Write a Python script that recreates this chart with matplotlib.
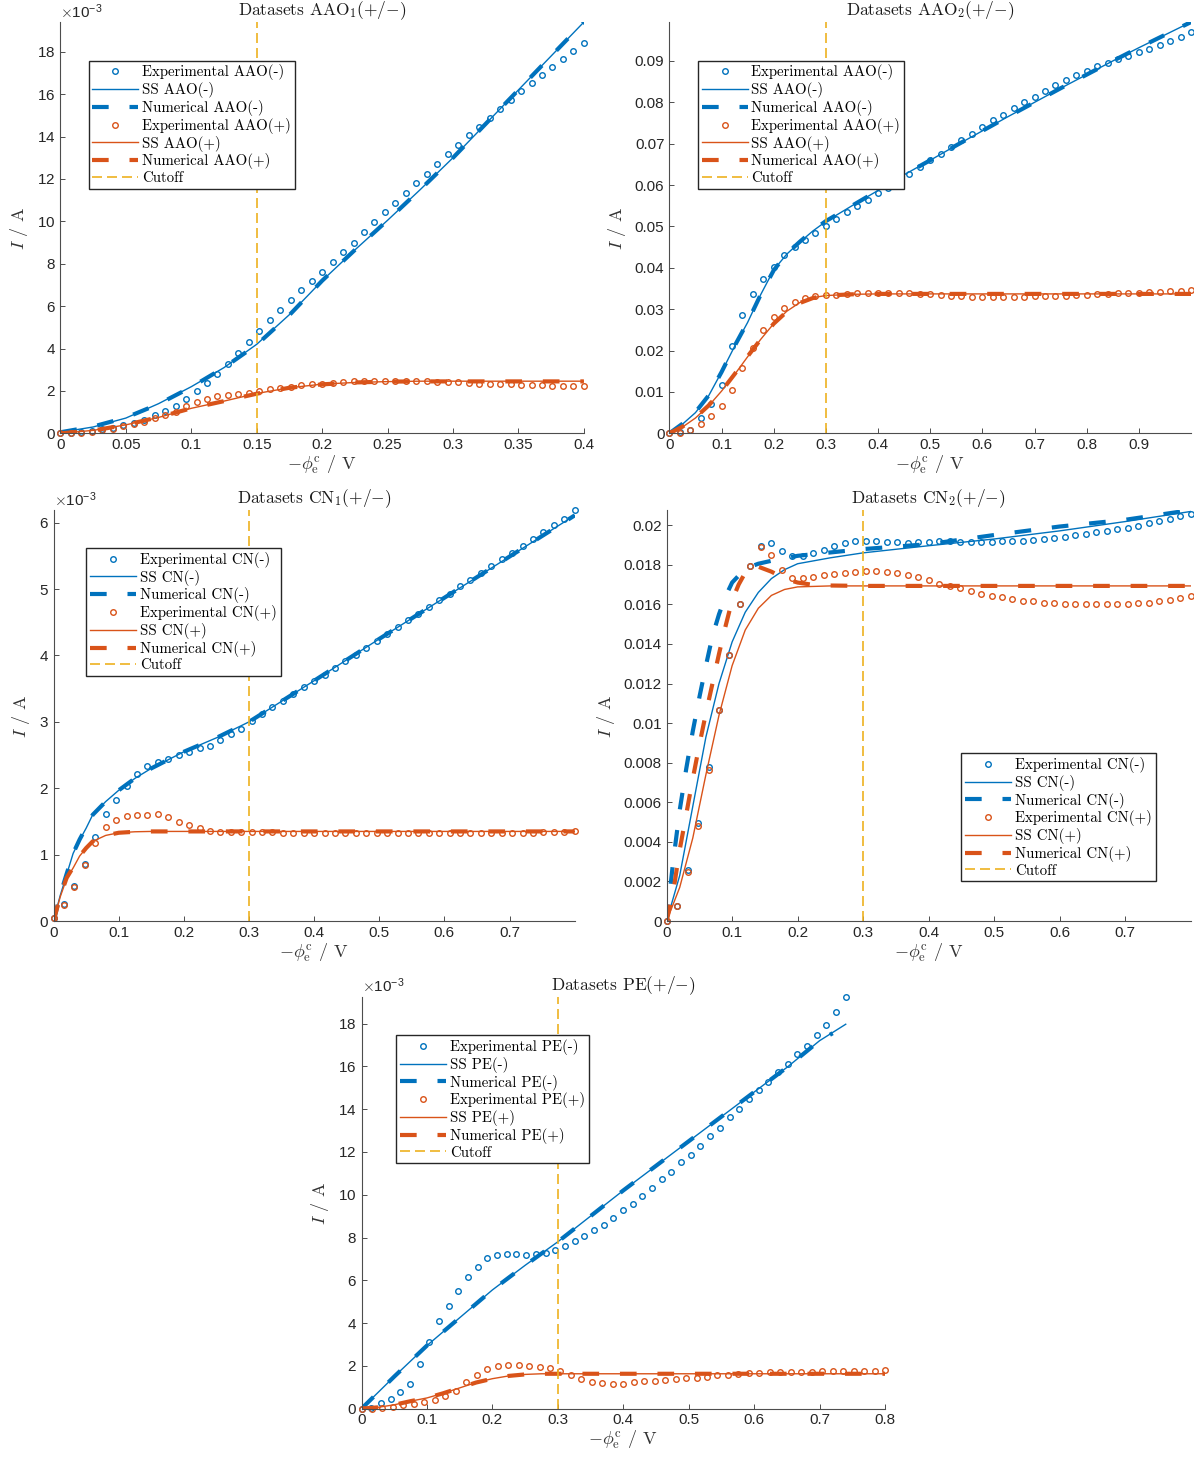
import numpy as np
import matplotlib
matplotlib.use('Agg')
import matplotlib.pyplot as plt
from matplotlib.ticker import FuncFormatter, ScalarFormatter

plt.rcParams['font.family'] = ['Liberation Sans', 'DejaVu Sans']
plt.rcParams['mathtext.fontset'] = 'cm'

BLUE = '#0072BD'
ORANGE = '#D95319'
YELLOW = '#EDB120'
SERIF = 'cmr10'

# ---------------- AAO1 (currents in mA) ----------------
aao1_exp_x = np.linspace(0, 0.4, 51)
aao1_exp_neg = [0, 0.03, 0.07, 0.13, 0.19, 0.27, 0.37, 0.51, 0.64, 0.88,
                1.04, 1.28, 1.62, 2.0, 2.38, 2.8, 3.26, 3.78, 4.3, 4.85,
                5.35, 5.84, 6.3, 6.74, 7.17, 7.62, 8.06, 8.54, 8.99, 9.48,
                9.95, 10.43, 10.88, 11.34, 11.8, 12.25, 12.72, 13.17, 13.62, 14.05,
                14.47, 14.88, 15.32, 15.73, 16.13, 16.52, 16.9, 17.28, 17.67, 18.03,
                18.41]
aao1_exp_pos = [0, 0.03, 0.03, 0.08, 0.14, 0.22, 0.34, 0.43, 0.54, 0.70,
                0.88, 1.0, 1.28, 1.49, 1.62, 1.74, 1.81, 1.87, 1.92, 2.0,
                2.1, 2.13, 2.2, 2.26, 2.32, 2.35, 2.38, 2.42, 2.45, 2.45,
                2.46, 2.48, 2.48, 2.48, 2.46, 2.45, 2.43, 2.42, 2.4, 2.37,
                2.35, 2.35, 2.32, 2.32, 2.3, 2.29, 2.27, 2.24, 2.24, 2.22,
                2.22]
aao1_mod_x = [0, 0.025, 0.05, 0.075, 0.1, 0.125, 0.15, 0.175, 0.2, 0.225,
              0.25, 0.275, 0.3, 0.325, 0.35, 0.375, 0.4]
aao1_ss_neg = [0.05, 0.3, 0.72, 1.4, 2.2, 3.1, 4.2, 5.6, 7.2, 8.65,
               10.05, 11.5, 13.0, 14.6, 16.2, 17.8, 19.4]
aao1_num_neg = [0.05, 0.32, 0.74, 1.38, 2.18, 3.1, 4.18, 5.58, 7.2, 8.65,
                10.05, 11.5, 13.0, 14.6, 16.2, 17.8, 19.4]
aao1_ss_pos = [0, 0.14, 0.4, 0.75, 1.18, 1.52, 1.88, 2.15, 2.32, 2.4,
               2.44, 2.46, 2.46, 2.46, 2.46, 2.46, 2.46]
aao1_num_pos = [0, 0.13, 0.4, 0.76, 1.18, 1.52, 1.87, 2.15, 2.31, 2.4,
                2.44, 2.45, 2.45, 2.45, 2.45, 2.45, 2.45]

# ---------------- AAO2 (currents in A) ----------------
aao2_exp_x = np.linspace(0, 1.0, 51)
aao2_exp_neg = [0, 0.0003, 0.0008, 0.0036, 0.0071, 0.0117, 0.0211, 0.0287, 0.0336, 0.0374,
                0.0403, 0.043, 0.045, 0.0468, 0.0484, 0.05, 0.0517, 0.0534, 0.055, 0.0564,
                0.058, 0.0593, 0.061, 0.0628, 0.0644, 0.066, 0.0676, 0.0693, 0.071, 0.0724,
                0.0741, 0.0757, 0.077, 0.0786, 0.08, 0.0814, 0.0828, 0.0842, 0.0854, 0.0866,
                0.0876, 0.0887, 0.0896, 0.0905, 0.0913, 0.0922, 0.093, 0.0939, 0.0948, 0.0959,
                0.0971]
aao2_exp_pos = [0, 0.0002, 0.0008, 0.0023, 0.0042, 0.0065, 0.0105, 0.0158, 0.0207, 0.0249,
                0.028, 0.0302, 0.0318, 0.0328, 0.0333, 0.0334, 0.0335, 0.0337, 0.0338, 0.0338,
                0.0339, 0.0339, 0.034, 0.0339, 0.0337, 0.0336, 0.0334, 0.0333, 0.0331, 0.033,
                0.033, 0.033, 0.033, 0.033, 0.033, 0.0331, 0.0331, 0.0333, 0.0333, 0.0334,
                0.0334, 0.0336, 0.0337, 0.0339, 0.034, 0.034, 0.0342, 0.0342, 0.0344, 0.0345,
                0.0347]
aao2_mod_x = [0, 0.025, 0.05, 0.075, 0.1, 0.125, 0.15, 0.175, 0.2, 0.225, 0.25, 0.275, 0.3,
              0.35, 0.4, 0.45, 0.5, 0.55, 0.6, 0.65, 0.7, 0.75, 0.8, 0.85, 0.9, 0.95, 1.0]
aao2_ss_neg = [0, 0.0022, 0.005, 0.009, 0.0148, 0.021, 0.0268, 0.0335, 0.0395, 0.0433, 0.0462,
               0.0489, 0.0512, 0.055, 0.0587, 0.0625, 0.066, 0.0696, 0.0731, 0.0766, 0.08,
               0.0834, 0.0867, 0.09, 0.0932, 0.0963, 0.0994]
aao2_num_neg = [0, 0.0023, 0.0051, 0.0091, 0.0148, 0.0211, 0.0269, 0.0335, 0.0394, 0.0434, 0.0463,
                0.049, 0.0513, 0.055, 0.0587, 0.0625, 0.066, 0.0696, 0.0731, 0.0766, 0.08,
                0.0834, 0.0867, 0.09, 0.0932, 0.0963, 0.0994]
aao2_ss_pos = [0, 0.0015, 0.0037, 0.0066, 0.0102, 0.0142, 0.0185, 0.0227, 0.0265, 0.0295, 0.0316,
               0.0328, 0.0333, 0.0336, 0.0337, 0.0337, 0.0337, 0.0337, 0.0337, 0.0337, 0.0337,
               0.0337, 0.0337, 0.0337, 0.0337, 0.0337, 0.0337]
aao2_num_pos = [0, 0.0016, 0.0038, 0.0067, 0.0102, 0.0143, 0.0186, 0.0227, 0.0265, 0.0294, 0.0315,
                0.0327, 0.0333, 0.0336, 0.0337, 0.0337, 0.0337, 0.0337, 0.0337, 0.0337, 0.0337,
                0.0337, 0.0337, 0.0337, 0.0337, 0.0337, 0.0337]

# ---------------- CN1 (currents in mA) ----------------
cn1_exp_x = np.linspace(0, 0.8, 51)
cn1_exp_neg = [0.05, 0.25, 0.53, 0.86, 1.27, 1.61, 1.83, 2.03, 2.21, 2.34,
               2.4, 2.44, 2.5, 2.54, 2.6, 2.63, 2.72, 2.82, 2.9, 3.02,
               3.12, 3.22, 3.32, 3.42, 3.52, 3.61, 3.71, 3.81, 3.91, 4.01,
               4.12, 4.22, 4.32, 4.43, 4.53, 4.63, 4.73, 4.83, 4.93, 5.04,
               5.14, 5.24, 5.35, 5.45, 5.55, 5.65, 5.76, 5.86, 5.96, 6.06,
               6.19]
cn1_exp_pos = [0.04, 0.24, 0.52, 0.85, 1.18, 1.42, 1.52, 1.58, 1.59, 1.6,
               1.61, 1.56, 1.49, 1.44, 1.4, 1.36, 1.34, 1.34, 1.34, 1.34,
               1.34, 1.34, 1.33, 1.33, 1.33, 1.33, 1.33, 1.32, 1.32, 1.32,
               1.32, 1.32, 1.32, 1.32, 1.32, 1.32, 1.32, 1.32, 1.32, 1.32,
               1.32, 1.32, 1.32, 1.33, 1.33, 1.33, 1.33, 1.34, 1.34, 1.34,
               1.35]
cn1_mod_x = [0, 0.01, 0.02, 0.03, 0.04, 0.05, 0.06, 0.08, 0.1, 0.125,
             0.15, 0.2, 0.25, 0.3, 0.4, 0.5, 0.6, 0.7, 0.8]
cn1_ss_neg = [0, 0.38, 0.7, 1.02, 1.22, 1.4, 1.6, 1.8, 1.97, 2.15,
              2.3, 2.55, 2.76, 3.0, 3.62, 4.25, 4.87, 5.49, 6.11]
cn1_num_neg = [0, 0.39, 0.71, 1.02, 1.23, 1.41, 1.6, 1.8, 1.97, 2.15,
               2.3, 2.55, 2.76, 3.0, 3.62, 4.25, 4.87, 5.49, 6.11]
cn1_ss_pos = [0, 0.36, 0.64, 0.8, 0.98, 1.1, 1.2, 1.29, 1.33, 1.345,
              1.35, 1.35, 1.35, 1.35, 1.35, 1.35, 1.35, 1.35, 1.35]
cn1_num_pos = [0, 0.37, 0.65, 0.81, 0.98, 1.1, 1.2, 1.29, 1.33, 1.345,
               1.35, 1.35, 1.35, 1.35, 1.35, 1.35, 1.35, 1.35, 1.35]

# ---------------- CN2 (currents in mA) ----------------
cn2_exp_x = np.linspace(0, 0.8, 51)
cn2_exp_neg = [0, 0.77, 2.57, 4.93, 7.77, 10.68, 13.46, 16.0, 17.93, 18.97,
               19.1, 18.67, 18.43, 18.43, 18.57, 18.75, 18.94, 19.09, 19.18, 19.21,
               19.21, 19.16, 19.13, 19.1, 19.13, 19.16, 19.18, 19.18, 19.16, 19.14,
               19.13, 19.16, 19.18, 19.19, 19.21, 19.26, 19.31, 19.34, 19.41, 19.5,
               19.55, 19.63, 19.68, 19.78, 19.88, 19.98, 20.1, 20.2, 20.32, 20.44,
               20.57]
cn2_exp_pos = [0, 0.77, 2.49, 4.79, 7.62, 10.68, 13.46, 16.01, 17.93, 18.89,
               18.49, 17.71, 17.34, 17.32, 17.37, 17.46, 17.54, 17.59, 17.64, 17.66,
               17.66, 17.63, 17.58, 17.5, 17.38, 17.24, 17.05, 16.92, 16.8, 16.66,
               16.54, 16.44, 16.35, 16.25, 16.18, 16.15, 16.08, 16.05, 16.03, 16.02,
               16.0, 16.0, 16.0, 16.02, 16.03, 16.05, 16.08, 16.15, 16.22, 16.32,
               16.44]
cn2_ss_neg_x = [0, 0.02, 0.04, 0.06, 0.08, 0.1, 0.12, 0.14, 0.16, 0.18,
                0.2, 0.25, 0.3, 0.4, 0.5, 0.6, 0.7, 0.8]
cn2_ss_neg = [0, 2.3, 5.8, 9.3, 12.0, 14.1, 15.6, 16.6, 17.3, 17.75,
              18.05, 18.35, 18.6, 18.96, 19.3, 19.71, 20.18, 20.69]
cn2_num_neg_x = [0, 0.01, 0.02, 0.03, 0.04, 0.05, 0.06, 0.07, 0.08, 0.09, 0.1,
                 0.12, 0.14, 0.16, 0.2, 0.3, 0.4, 0.5, 0.6, 0.7, 0.8]
cn2_num_neg = [0, 3.0, 5.6, 7.7, 9.6, 11.3, 12.9, 14.4, 15.5, 16.4, 17.1,
               17.8, 18.05, 18.2, 18.45, 18.79, 19.04, 19.5, 19.93, 20.27, 20.76]
cn2_ss_pos_x = [0, 0.02, 0.04, 0.06, 0.08, 0.1, 0.12, 0.14, 0.16, 0.18,
                0.2, 0.25, 0.3, 0.8]
cn2_ss_pos = [0, 1.7, 4.2, 7.4, 10.4, 12.9, 14.7, 15.8, 16.45, 16.75,
              16.88, 16.93, 16.93, 16.93]
cn2_num_pos_x = [0, 0.01, 0.02, 0.03, 0.04, 0.05, 0.06, 0.07, 0.08, 0.09, 0.1,
                 0.11, 0.12, 0.13, 0.14, 0.16, 0.18, 0.2, 0.22, 0.25, 0.3, 0.8]
cn2_num_pos = [0, 1.45, 3.6, 5.4, 7.2, 8.9, 10.5, 12.0, 13.5, 14.9, 16.2,
               17.0, 17.6, 17.95, 17.9, 17.65, 17.3, 17.1, 17.0, 16.95, 16.93, 16.93]

# ---------------- PE (currents in mA) ----------------
pe_exp_neg_x = np.linspace(0, 0.74, 51)
pe_exp_neg = [0, 0.05, 0.25, 0.45, 0.77, 1.14, 2.08, 3.1, 4.08, 4.81,
              5.49, 6.16, 6.61, 7.02, 7.17, 7.24, 7.23, 7.2, 7.23, 7.26,
              7.43, 7.59, 7.82, 8.05, 8.35, 8.6, 8.9, 9.27, 9.57, 9.96,
              10.3, 10.74, 11.08, 11.54, 11.86, 12.3, 12.75, 13.14, 13.63, 14.0,
              14.49, 14.88, 15.25, 15.72, 16.11, 16.56, 16.95, 17.45, 17.92, 18.56,
              19.26]
pe_exp_pos_x = np.linspace(0, 0.8, 51)
pe_exp_pos = [0, 0.0, 0.02, 0.08, 0.17, 0.22, 0.31, 0.42, 0.58, 0.84,
              1.23, 1.59, 1.83, 1.98, 2.03, 2.03, 2.0, 1.95, 1.88, 1.75,
              1.59, 1.39, 1.25, 1.2, 1.17, 1.17, 1.23, 1.27, 1.3, 1.33,
              1.38, 1.42, 1.45, 1.5, 1.55, 1.59, 1.63, 1.66, 1.67, 1.7,
              1.7, 1.72, 1.73, 1.73, 1.75, 1.75, 1.77, 1.78, 1.78, 1.78,
              1.81]
pe_ss_neg_x = [0, 0.025, 0.05, 0.1, 0.15, 0.2, 0.25, 0.3, 0.35, 0.4,
               0.45, 0.5, 0.55, 0.6, 0.65, 0.7, 0.74]
pe_ss_neg = [0, 0.75, 1.5, 2.95, 4.25, 5.55, 6.7, 7.8, 9.0, 10.2,
             11.35, 12.5, 13.65, 14.8, 15.95, 17.2, 17.97]
pe_num_neg_x = [0, 0.025, 0.05, 0.1, 0.15, 0.2, 0.25, 0.3, 0.35, 0.4,
                0.45, 0.5, 0.55, 0.6, 0.65, 0.7, 0.72]
pe_num_neg = [0, 0.75, 1.5, 2.95, 4.25, 5.55, 6.7, 7.8, 9.0, 10.2,
              11.35, 12.5, 13.65, 14.8, 15.95, 17.2, 17.55]
pe_pos_x = [0, 0.025, 0.05, 0.075, 0.1, 0.125, 0.15, 0.175, 0.2, 0.225,
            0.25, 0.275, 0.3, 0.8]
pe_ss_pos = [0, 0.06, 0.18, 0.35, 0.5, 0.72, 0.97, 1.22, 1.4, 1.53,
             1.6, 1.63, 1.63, 1.63]
pe_num_pos = [0, 0.06, 0.18, 0.35, 0.5, 0.72, 0.97, 1.22, 1.4, 1.53,
              1.6, 1.63, 1.63, 1.63]

cutoffs = {'AAO1': 0.15, 'AAO2': 0.3, 'CN1': 0.3, 'CN2': 0.3, 'PE': 0.3}


def gfmt(v, pos):
    return '%g' % round(v, 6)


def plotPanel(ax, name, title, series, scale, cutoff, xlim, xticks, yticks, legpos, sci):
    (ex_n, ey_n, sx_n, sy_n, nx_n, ny_n,
     ex_p, ey_p, sx_p, sy_p, nx_p, ny_p) = series
    s = lambda v: np.asarray(v) * scale
    ax.plot(ex_n, s(ey_n), 'o', mfc='none', mec=BLUE, ms=4, mew=1.0, clip_on=False,
            label='Experimental %s(-)' % name)
    ax.plot(sx_n, s(sy_n), '-', color=BLUE, lw=1.0, label='SS %s(-)' % name)
    ax.plot(nx_n, s(ny_n), color=BLUE, lw=3, ls=(0, (4, 5)), label='Numerical %s(-)' % name)
    ax.plot(ex_p, s(ey_p), 'o', mfc='none', mec=ORANGE, ms=4, mew=1.0, clip_on=False,
            label='Experimental %s(+)' % name)
    ax.plot(sx_p, s(sy_p), '-', color=ORANGE, lw=1.0, label='SS %s(+)' % name)
    ax.plot(nx_p, s(ny_p), color=ORANGE, lw=3, ls=(0, (4, 5)), label='Numerical %s(+)' % name)
    ax.axvline(cutoff, color=YELLOW, lw=1.2, ls=(0, (6, 3)), label='Cutoff')

    ymax = max(np.max(s(v)) for v in (ey_n, sy_n, ny_n, ey_p, sy_p, ny_p))
    ax.set_xlim(*xlim)
    ax.set_ylim(0, ymax)
    ax.set_xticks(xticks)
    ax.set_yticks(yticks)
    ax.xaxis.set_major_formatter(FuncFormatter(gfmt))
    if sci:
        fmt = ScalarFormatter(useMathText=True)
        fmt.set_powerlimits((-3, -3))
        ax.yaxis.set_major_formatter(fmt)
        ax.yaxis.get_offset_text().set_fontsize(11)
        ax.yaxis.get_offset_text().set_color('0.15')
    else:
        ax.yaxis.set_major_formatter(FuncFormatter(gfmt))

    for side in ('top', 'right'):
        ax.spines[side].set_visible(False)
    for side in ('left', 'bottom'):
        ax.spines[side].set_color('0.3')
        ax.spines[side].set_linewidth(0.8)
    ax.tick_params(direction='in', length=3.5, width=0.7, colors='0.3',
                   labelcolor='0.15', labelsize=11)

    ax.set_title(title, fontfamily=SERIF, fontsize=12.5, pad=4, color='0.1')
    ax.set_ylabel(r'$I$ / A', fontfamily=SERIF, fontsize=13, color='0.2', labelpad=5)
    ax.set_xlabel(r'$-\phi_{\mathrm{e}}^{\mathrm{c}}$ / V', fontfamily=SERIF, fontsize=13,
                  color='0.2', labelpad=1)

    ax.legend(loc='upper left', bbox_to_anchor=legpos, borderaxespad=0,
              prop={'family': SERIF, 'size': 10.7}, frameon=True, fancybox=False,
              edgecolor='0.15', framealpha=1, borderpad=0.25, labelspacing=0.12,
              handlelength=3.1, handletextpad=0.25)


def main():
    fig = plt.figure(figsize=(11.94, 14.62), dpi=100)

    ax1 = fig.add_axes([0.0506, 0.7036, 0.4384, 0.2813])
    plotPanel(ax1, 'AAO', r'Datasets AAO$_1$(+/$-$)',
              (aao1_exp_x, aao1_exp_neg, aao1_mod_x, aao1_ss_neg, aao1_mod_x, aao1_num_neg,
               aao1_exp_x, aao1_exp_pos, aao1_mod_x, aao1_ss_pos, aao1_mod_x, aao1_num_pos),
              1e-3, cutoffs['AAO1'], (0, 0.4), np.arange(0, 0.401, 0.05),
              np.arange(0, 0.0181, 0.002), (0.054, 0.906), True)

    ax2 = fig.add_axes([0.5606, 0.7036, 0.4369, 0.2813])
    plotPanel(ax2, 'AAO', r'Datasets AAO$_2$(+/$-$)',
              (aao2_exp_x, aao2_exp_neg, aao2_mod_x, aao2_ss_neg, aao2_mod_x, aao2_num_neg,
               aao2_exp_x, aao2_exp_pos, aao2_mod_x, aao2_ss_pos, aao2_mod_x, aao2_num_pos),
              1.0, cutoffs['AAO2'], (0, 1.0), np.arange(0, 0.91, 0.1),
              np.arange(0, 0.091, 0.01), (0.0545, 0.906), False)

    ax3 = fig.add_axes([0.0449, 0.3700, 0.4364, 0.2811])
    plotPanel(ax3, 'CN', r'Datasets CN$_1$(+/$-$)',
              (cn1_exp_x, cn1_exp_neg, cn1_mod_x, cn1_ss_neg, cn1_mod_x, cn1_num_neg,
               cn1_exp_x, cn1_exp_pos, cn1_mod_x, cn1_ss_pos, cn1_mod_x, cn1_num_pos),
              1e-3, cutoffs['CN1'], (0, 0.8), np.arange(0, 0.71, 0.1),
              np.arange(0, 0.00601, 0.001), (0.063, 0.9075), True)

    ax4 = fig.add_axes([0.5583, 0.3700, 0.4389, 0.2811])
    plotPanel(ax4, 'CN', r'Datasets CN$_2$(+/$-$)',
              (cn2_exp_x, cn2_exp_neg, cn2_ss_neg_x, cn2_ss_neg, cn2_num_neg_x, cn2_num_neg,
               cn2_exp_x, cn2_exp_pos, cn2_ss_pos_x, cn2_ss_pos, cn2_num_pos_x, cn2_num_pos),
              1e-3, cutoffs['CN2'], (0, 0.8), np.arange(0, 0.71, 0.1),
              np.arange(0, 0.02001, 0.002), (0.5626, 0.408), False)

    ax5 = fig.add_axes([0.3028, 0.0365, 0.4384, 0.2818])
    plotPanel(ax5, 'PE', r'Datasets PE(+/$-$)',
              (pe_exp_neg_x, pe_exp_neg, pe_ss_neg_x, pe_ss_neg, pe_num_neg_x, pe_num_neg,
               pe_exp_pos_x, pe_exp_pos, pe_pos_x, pe_ss_pos, pe_pos_x, pe_num_pos),
              1e-3, cutoffs['PE'], (0, 0.8), np.arange(0, 0.81, 0.1),
              np.arange(0, 0.0181, 0.002), (0.0663, 0.906), True)

    fig.savefig('out.png', dpi=100)


main()
